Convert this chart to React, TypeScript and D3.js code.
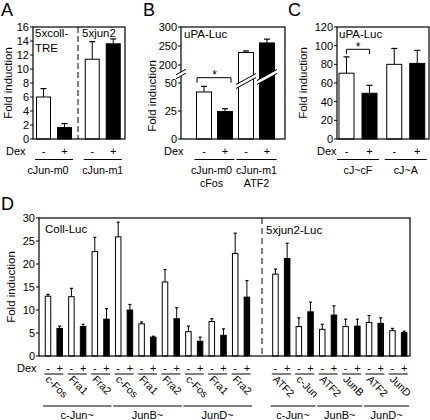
import React from 'react';
import * as d3 from 'd3';

// ---------- Panel A ----------
const aPairs = ['cJun-m0', 'cJun-m1'];
const aMinus = [6.0, 11.4];
const aMinusErr = [1.2, 2.5];
const aPlus = [1.65, 13.6];
const aPlusErr = [0.55, 0.7];
const aTicks = [0, 2, 4, 6, 8, 10, 12, 14, 16];

// ---------- Panel B ----------
const bPairs = ['cJun-m0', 'cJun-m1'];
const bPairs2 = ['cFos', 'ATF2'];
const bMinus = [42, 233];
const bMinusErr = [5, 4];
const bPlus = [24.5, 258];
const bPlusErr = [2.5, 10];
const bLowTicks = [0, 25, 50];
const bHighTicks = [200, 250, 300];

// ---------- Panel C ----------
const cPairs = ['cJ~cF', 'cJ~A'];
const cMinus = [70.5, 80];
const cMinusErr = [17.5, 17];
const cPlus = [49, 81];
const cPlusErr = [8.5, 14];
const cTicks = [0, 20, 40, 60, 80, 100, 120];

// ---------- Panel D ----------
const dGroups = ['c-Jun~', 'JunB~', 'JunD~'];
const dLeftPartners = ['c-Fos', 'Fra1', 'Fra2', 'c-Fos', 'Fra1', 'Fra2', 'c-Fos', 'Fra1', 'Fra2'];
const dLeftMinus = [13.0, 12.9, 22.7, 25.9, 7.0, 16.1, 5.3, 7.5, 22.3];
const dLeftMinusErr = [0.4, 1.8, 3.1, 3.2, 0.4, 2.7, 1.2, 0.6, 4.4];
const dLeftPlus = [6.0, 6.4, 8.0, 10.0, 4.1, 8.1, 3.2, 4.5, 12.8];
const dLeftPlusErr = [0.5, 0.5, 2.3, 1.2, 0.2, 2.4, 0.9, 1.4, 3.6];
const dRightPartners = ['ATF2', 'c-Jun', 'ATF2', 'JunB', 'ATF2', 'JunD'];
const dRightMinus = [17.8, 6.4, 5.8, 6.4, 7.3, 5.5];
const dRightMinusErr = [1.1, 1.9, 1.1, 1.6, 1.5, 0.5];
const dRightPlus = [21.2, 9.6, 8.9, 6.5, 7.1, 5.1];
const dRightPlusErr = [3.3, 2.1, 2.0, 1.5, 1.2, 0.3];
const dTicks = [0, 5, 10, 15, 20, 25, 30];

const FONT = '"Liberation Sans", Arial, Helvetica, sans-serif';

type Bar = { x: number; w: number; y0: number; y1: number; ye: number; black: boolean; cap: number };

function BarMark({ b }: { b: Bar }) {
  return (
    <g>
      <line x1={b.x} x2={b.x} y1={b.y1} y2={b.ye} stroke="#000" strokeWidth={1} />
      <line x1={b.x - b.cap / 2} x2={b.x + b.cap / 2} y1={b.ye} y2={b.ye} stroke="#000" strokeWidth={1.2} />
      <rect x={b.x - b.w / 2} y={b.y1} width={b.w} height={b.y0 - b.y1}
        fill={b.black ? '#000' : '#fff'} stroke="#000" strokeWidth={1} />
    </g>
  );
}

function YAxis({ x, y, ticks }: { x: number; y: (v: number) => number; ticks: number[] }) {
  return (
    <g>
      {ticks.map((t) => (
        <g key={t}>
          <line x1={x - 3} x2={x} y1={y(t)} y2={y(t)} stroke="#000" strokeWidth={1} />
          <text x={x - 4} y={y(t)} dy="0.35em" textAnchor="end" fontSize={11}>{t}</text>
        </g>
      ))}
    </g>
  );
}

function DexRow({ x0, y, xs, signs }: { x0: number; y: number; xs: number[]; signs: string[] }) {
  return (
    <g>
      <text x={x0} y={y} fontSize={11}>Dex</text>
      {xs.map((x, i) => (
        <text key={i} x={x} y={y} textAnchor="middle" fontSize={11}>{signs[i]}</text>
      ))}
    </g>
  );
}

export default function App() {
  // ---- A ----
  const yA = d3.scaleLinear().domain([0, 16]).range([139, 27]);
  const xA = d3.scaleLinear().domain([0, 1]).range([54, 102.75]);
  const aBars: Bar[] = [];
  aPairs.forEach((_, i) => {
    aBars.push({ x: xA(i) - 10.5, w: 14, y0: yA(0), y1: yA(aMinus[i]), ye: yA(aMinus[i] + aMinusErr[i]), black: false, cap: 6 });
    aBars.push({ x: xA(i) + 10.5, w: 14, y0: yA(0), y1: yA(aPlus[i]), ye: yA(aPlus[i] + aPlusErr[i]), black: true, cap: 6 });
  });

  // ---- B ----
  const yBLow = d3.scaleLinear().domain([0, 50]).range([139, 83]);
  const yBHigh = d3.scaleLinear().domain([200, 300]).range([65, 27]);
  const yB = (v: number) => (v <= 50 ? yBLow(v) : yBHigh(v));
  const xB = d3.scaleLinear().domain([0, 1]).range([214.5, 256.5]);
  const bBars: Bar[] = [];
  bPairs.forEach((_, i) => {
    bBars.push({ x: xB(i) - 10.5, w: 15, y0: yB(0), y1: yB(bMinus[i]), ye: yB(bMinus[i] + bMinusErr[i]), black: false, cap: 6 });
    bBars.push({ x: xB(i) + 10.5, w: 15, y0: yB(0), y1: yB(bPlus[i]), ye: yB(bPlus[i] + bPlusErr[i]), black: true, cap: 6 });
  });

  // ---- C ----
  const yC = d3.scaleLinear().domain([0, 120]).range([139, 27]);
  const xC = d3.scaleLinear().domain([0, 1]).range([358, 405.75]);
  const cBars: Bar[] = [];
  cPairs.forEach((_, i) => {
    cBars.push({ x: xC(i) - 11.5, w: 15, y0: yC(0), y1: yC(cMinus[i]), ye: yC(cMinus[i] + cMinusErr[i]), black: false, cap: 6 });
    cBars.push({ x: xC(i) + 11.5, w: 15, y0: yC(0), y1: yC(cPlus[i]), ye: yC(cPlus[i] + cPlusErr[i]), black: true, cap: 6 });
  });

  // ---- D ----
  const yD = d3.scaleLinear().domain([0, 30]).range([356, 218]);
  const xD = d3.scaleLinear().domain([0, 1]).range([48, 59.7]);
  const rightOffset = 19.44;
  const dBars: Bar[] = [];
  const dPairCenters: number[] = [];
  const dPairLabels: string[] = [];
  dLeftPartners.forEach((p, i) => {
    const xm = xD(2 * i), xp = xD(2 * i + 1);
    dBars.push({ x: xm, w: 5.5, y0: yD(0), y1: yD(dLeftMinus[i]), ye: yD(dLeftMinus[i] + dLeftMinusErr[i]), black: false, cap: 3 });
    dBars.push({ x: xp, w: 5.5, y0: yD(0), y1: yD(dLeftPlus[i]), ye: yD(dLeftPlus[i] + dLeftPlusErr[i]), black: true, cap: 3 });
    dPairCenters.push((xm + xp) / 2);
    dPairLabels.push(p);
  });
  dRightPartners.forEach((p, i) => {
    const xm = xD(rightOffset + 2 * i), xp = xD(rightOffset + 2 * i + 1);
    dBars.push({ x: xm, w: 5.5, y0: yD(0), y1: yD(dRightMinus[i]), ye: yD(dRightMinus[i] + dRightMinusErr[i]), black: false, cap: 3 });
    dBars.push({ x: xp, w: 5.5, y0: yD(0), y1: yD(dRightPlus[i]), ye: yD(dRightPlus[i] + dRightPlusErr[i]), black: true, cap: 3 });
    dPairCenters.push((xm + xp) / 2);
    dPairLabels.push(p);
  });
  const leftGroupSpans = dGroups.map((g, gi) => [xD(6 * gi) - 5, xD(6 * gi + 5) + 5]);
  const rightGroupSpans = dGroups.map((g, gi) => [xD(rightOffset + 4 * gi) - 5, xD(rightOffset + 4 * gi + 3) + 5]);

  const breakBand = (xl: number, xr: number, yc: number, slope: number, gap: number) => {
    const ylT = yc + (xl - (xl + xr) / 2) * -slope - gap / 2;
    const yrT = yc + (xr - (xl + xr) / 2) * -slope - gap / 2;
    return { xl, xr, ylT, yrT, ylB: ylT + gap, yrB: yrT + gap };
  };
  const bBreaks = [
    breakBand(xB(1) - 10.5 - 10, xB(1) - 10.5 + 10, 81, 0.55, 4),
    breakBand(xB(1) + 10.5 - 10, xB(1) + 10.5 + 10, 77, 0.55, 4),
  ];
  const axBreak = breakBand(176, 186, 74, 0.55, 4);

  return (
    <svg width={430} height={420} style={{ position: 'absolute', left: 0, top: 0, fontFamily: FONT }}>
      <rect x={0} y={0} width={430} height={420} fill="#fff" />
      {/* ===== Panel A ===== */}
      <text x={1} y={16} fontSize={18}>A</text>
      <text transform={`translate(12,${(27 + 139) / 2}) rotate(-90)`} textAnchor="middle" fontSize={11.5}>Fold induction</text>
      <YAxis x={33} y={yA} ticks={aTicks} />
      {aBars.map((b, i) => <BarMark key={i} b={b} />)}
      <line x1={78} x2={78} y1={27} y2={139} stroke="#000" strokeWidth={1} strokeDasharray="6,3" />
      <rect x={33} y={27} width={92} height={112} fill="none" stroke="#000" strokeWidth={1.2} />
      <text x={35} y={37} fontSize={11.5}>5xcoll-</text>
      <text x={35} y={52} fontSize={11.5}>TRE</text>
      <text x={82} y={37} fontSize={11.5}>5xjun2</text>
      <DexRow x0={6} y={155} xs={aBars.map((b) => b.x)} signs={['-', '+', '-', '+']} />
      {aPairs.map((p, i) => (
        <g key={p}>
          <line x1={xA(i) - 19} x2={xA(i) + 19} y1={159.5} y2={159.5} stroke="#000" strokeWidth={1} />
          <text x={i === 0 ? xA(i) - 6 : xA(i)} y={174} textAnchor="middle" fontSize={10.7}>{p}</text>
        </g>
      ))}

      {/* ===== Panel B ===== */}
      <text x={143} y={16} fontSize={18}>B</text>
      <text transform={`translate(156,96) rotate(-90)`} textAnchor="middle" fontSize={11.5}>Fold induction</text>
      <YAxis x={181} y={yBLow} ticks={bLowTicks} />
      <YAxis x={181} y={yBHigh} ticks={bHighTicks} />
      {bBars.map((b, i) => <BarMark key={i} b={b} />)}
      {bBreaks.map((k, i) => (
        <g key={i}>
          <polygon points={`${k.xl},${k.ylT} ${k.xr},${k.yrT} ${k.xr},${k.yrB} ${k.xl},${k.ylB}`} fill="#fff" />
          <line x1={k.xl} y1={k.ylT} x2={k.xr} y2={k.yrT} stroke="#000" strokeWidth={1} />
          <line x1={k.xl} y1={k.ylB} x2={k.xr} y2={k.yrB} stroke="#000" strokeWidth={1} />
        </g>
      ))}
      <rect x={181} y={27} width={104} height={112} fill="none" stroke="#000" strokeWidth={1.2} />
      <polygon points={`${axBreak.xl},${axBreak.ylT} ${axBreak.xr},${axBreak.yrT} ${axBreak.xr},${axBreak.yrB} ${axBreak.xl},${axBreak.ylB}`} fill="#fff" />
      <line x1={axBreak.xl} y1={axBreak.ylT} x2={axBreak.xr} y2={axBreak.yrT} stroke="#000" strokeWidth={1} />
      <line x1={axBreak.xl} y1={axBreak.ylB} x2={axBreak.xr} y2={axBreak.yrB} stroke="#000" strokeWidth={1} />
      <text x={184} y={38} fontSize={11.5}>uPA-Luc</text>
      <path d={`M${bBars[0].x - 7},82.7 V77.7 H${bBars[1].x + 6} V82.7`} fill="none" stroke="#000" strokeWidth={1} />
      <text x={(bBars[0].x + bBars[1].x) / 2} y={79} textAnchor="middle" fontSize={12}>*</text>
      <DexRow x0={164} y={155} xs={bBars.map((b) => b.x)} signs={['-', '+', '-', '+']} />
      {bPairs.map((p, i) => (
        <g key={p}>
          <line x1={xB(i) - 20} x2={xB(i) + 20} y1={159.5} y2={159.5} stroke="#000" strokeWidth={1} />
          <text x={i === 0 ? xB(i) - 3 : xB(i)} y={174} textAnchor="middle" fontSize={10.7}>{p}</text>
          <text x={i === 0 ? xB(i) - 3 : xB(i)} y={187} textAnchor="middle" fontSize={10.7}>{bPairs2[i]}</text>
        </g>
      ))}

      {/* ===== Panel C ===== */}
      <text x={288} y={16} fontSize={18}>C</text>
      <text transform={`translate(307,83) rotate(-90)`} textAnchor="middle" fontSize={11.5}>Fold induction</text>
      <YAxis x={337} y={yC} ticks={cTicks} />
      {cBars.map((b, i) => <BarMark key={i} b={b} />)}
      <rect x={337} y={27} width={92} height={112} fill="none" stroke="#000" strokeWidth={1.2} />
      <text x={339} y={38} fontSize={11.5}>uPA-Luc</text>
      <path d={`M${cBars[0].x},54 V49.3 H${cBars[1].x} V54`} fill="none" stroke="#000" strokeWidth={1} />
      <text x={(cBars[0].x + cBars[1].x) / 2} y={50.5} textAnchor="middle" fontSize={12}>*</text>
      <DexRow x0={317} y={155} xs={cBars.map((b) => b.x)} signs={['-', '+', '-', '+']} />
      {cPairs.map((p, i) => (
        <g key={p}>
          <line x1={xC(i) - 21} x2={xC(i) + 21} y1={159.5} y2={159.5} stroke="#000" strokeWidth={1} />
          <text x={xC(i)} y={174} textAnchor="middle" fontSize={10.7}>{p}</text>
        </g>
      ))}

      {/* ===== Panel D ===== */}
      <text x={1} y={210} fontSize={18}>D</text>
      <text transform={`translate(15,${(218 + 356) / 2}) rotate(-90)`} textAnchor="middle" fontSize={11.5}>Fold induction</text>
      <YAxis x={39} y={yD} ticks={dTicks} />
      {dBars.map((b, i) => <BarMark key={i} b={b} />)}
      <line x1={262} x2={262} y1={218} y2={356} stroke="#000" strokeWidth={1} strokeDasharray="6,4" />
      <rect x={39} y={218} width={371} height={138} fill="none" stroke="#000" strokeWidth={1.2} />
      <text x={45} y={233} fontSize={11.5}>Coll-Luc</text>
      <text x={266} y={234} fontSize={11.5}>5xjun2-Luc</text>
      <DexRow x0={17} y={372} xs={dBars.map((b) => b.x)} signs={dBars.map((b) => (b.black ? '+' : '-'))} />
      {dPairCenters.map((c, i) => (
        <g key={i}>
          <line x1={c - 9.5} x2={c + 9.5} y1={374} y2={374} stroke="#000" strokeWidth={1} />
          <text transform={`translate(${c - 9},${380}) rotate(45)`} fontSize={10.5}>{dPairLabels[i]}</text>
        </g>
      ))}
      {leftGroupSpans.map((s, i) => (
        <g key={'l' + i}>
          <line x1={s[0]} x2={s[1]} y1={406} y2={406} stroke="#000" strokeWidth={1} />
          <text x={(s[0] + s[1]) / 2} y={419} textAnchor="middle" fontSize={11}>{dGroups[i]}</text>
        </g>
      ))}
      {rightGroupSpans.map((s, i) => (
        <g key={'r' + i}>
          <line x1={s[0]} x2={s[1]} y1={406} y2={406} stroke="#000" strokeWidth={1} />
          <text x={(s[0] + s[1]) / 2} y={419} textAnchor="middle" fontSize={11}>{dGroups[i]}</text>
        </g>
      ))}
    </svg>
  );
}
